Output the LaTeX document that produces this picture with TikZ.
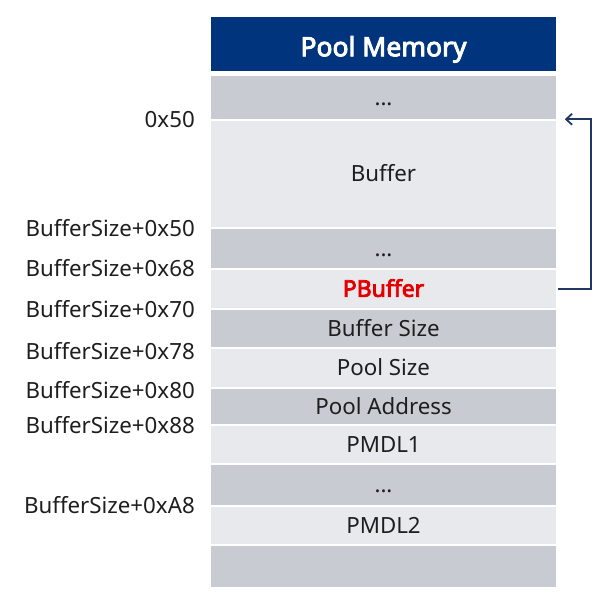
\documentclass[tikz,border=0pt]{standalone}
\usepackage{fontspec}
\setmainfont[AutoFakeBold=3.5]{Noto Sans}
\usetikzlibrary{arrows.meta}
\definecolor{navy}{RGB}{0,52,125}
\definecolor{rowdark}{RGB}{201,203,211}
\definecolor{rowlight}{RGB}{232,233,237}
\definecolor{arrowcol}{RGB}{32,56,100}
\definecolor{pred}{RGB}{228,0,0}
\definecolor{txt}{RGB}{30,30,30}
\begin{document}
\begin{tikzpicture}[x=1pt,y=-1pt,
  cell/.style={draw=white, line width=1.5pt, minimum width=347pt, inner sep=0pt,
    text height=15.5pt, text depth=0pt, font=\fontsize{22.3}{25}\selectfont, text=txt},
  dark/.style={cell, fill=rowdark},
  light/.style={cell, fill=rowlight},
  head/.style={cell, fill=navy, text=white, text height=24pt, font=\fontsize{26.5}{30}\selectfont\bfseries},
  addr/.style={anchor=east, inner sep=0pt, text height=15.5pt, text depth=0pt,
    font=\fontsize{22.3}{25}\selectfont, text=txt},
  link/.style={draw=arrowcol, line width=1.8pt, -{Straight Barb[length=6pt,width=11pt]}}]
\useasboundingbox (0,0) rectangle (600,592);
\node[head,  minimum height=55.5pt] (hd)  at (383.5,44.25) {Pool Memory};
\node[dark,  minimum height=45pt]   (r1)  at (383.5,97.5)  {...};
\node[light, minimum height=108pt]  (r2)  at (383.5,174)   {Buffer};
\node[dark,  minimum height=41pt]   (r3)  at (383.5,248.5) {...};
\node[light, minimum height=40pt, text=pred, font=\fontsize{23}{26}\selectfont\bfseries] (r4) at (383.5,289) {PBuffer};
\node[dark,  minimum height=39pt]   (r5)  at (383.5,328.5) {Buffer Size};
\node[light, minimum height=40pt]   (r6)  at (383.5,368)   {Pool Size};
\node[dark,  minimum height=37pt]   (r7)  at (383.5,406.5) {Pool Address};
\node[light, minimum height=39pt]   (r8)  at (383.5,444.5) {PMDL1};
\node[dark,  minimum height=42pt]   (r9)  at (383.5,485)   {...};
\node[light, minimum height=39pt]   (r10) at (383.5,525.5) {PMDL2};
\node[dark,  minimum height=43pt]   (r11) at (383.5,566.5) {};
\node[addr] (a1) at (195,120) {0x50};
\node[addr] (a2) at (195,229) {BufferSize+0x50};
\node[addr] (a3) at (195,269) {BufferSize+0x68};
\node[addr] (a4) at (195,310) {BufferSize+0x70};
\node[addr] (a5) at (195,352) {BufferSize+0x78};
\node[addr] (a6) at (195,391) {BufferSize+0x80};
\node[addr] (a7) at (195,426) {BufferSize+0x88};
\node[addr] (a8) at (195,506) {BufferSize+0xA8};
\coordinate (tip) at ([xshift=7pt]r2.north east);
\draw[link] (r4.east) -- ++(33,0) |- (tip);
\end{tikzpicture}
\end{document}
